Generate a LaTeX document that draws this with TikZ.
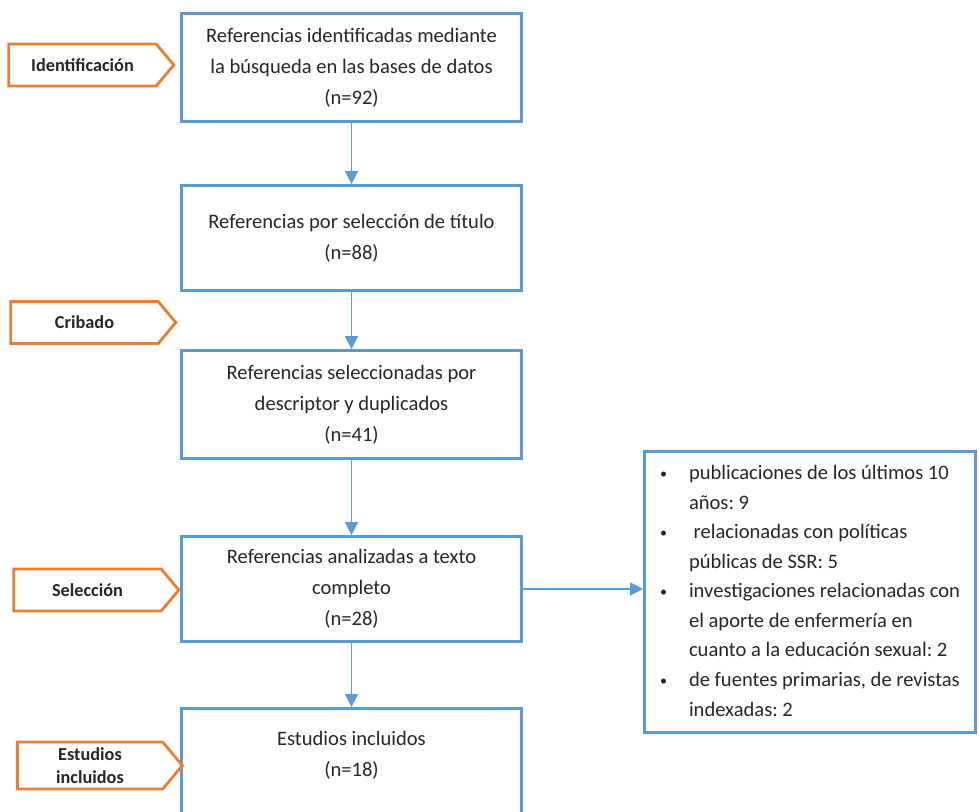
\documentclass[tikz,border=0pt]{standalone}
\usepackage{fontspec}
\setmainfont{Carlito}
\usetikzlibrary{arrows.meta,positioning,shapes.symbols}
\definecolor{prblue}{RGB}{91,155,213}
\definecolor{prorange}{RGB}{237,125,49}
\definecolor{prtext}{RGB}{38,38,38}
\newcommand{\prbullet}{\raisebox{0.12ex}{\fontsize{8}{8}\selectfont\textbullet}}
\frenchspacing

\begin{document}
\begin{tikzpicture}[
        stage/.style={draw=prblue, line width=1.6pt, minimum width=6.8cm, align=center, text=prtext, font=\fontsize{11.7}{17.6}\selectfont},
        phase/.style={signal, signal to=east, signal pointer angle=100, draw=prorange, line width=1.6pt, minimum width=3.3cm, minimum height=0.84cm, inner sep=0pt, align=center, text=prtext, font=\fontsize{10.4}{12.8}\selectfont\bfseries},
        flow/.style={-{Triangle[length=0.26cm, width=0.26cm]}, line width=0.85pt, draw=prblue}
      ]
      \useasboundingbox (0,0) rectangle (19.58,-16.22);
      \clip (0,0) rectangle (19.58,-16.22);

      \node[stage, minimum height=2.16cm] (ident) at (7.03,-1.35) {Referencias identificadas mediante\\la búsqueda en las bases de datos\\(n=92)};
      \node[stage, minimum height=2.10cm] (titulo) at (7.03,-4.76) {Referencias por selección de título\\(n=88)};
      \node[stage, minimum height=2.16cm] (descr) at (7.03,-8.09) {Referencias seleccionadas por\\descriptor y duplicados\\(n=41)};
      \node[stage, minimum height=2.10cm] (texto) at (7.03,-11.78) {Referencias analizadas a texto\\completo\\(n=28)};
      \node[stage, minimum height=2.30cm, text depth=0.49cm] (incl) at (7.03,-15.32) {Estudios incluidos\\(n=18)};

      \node[draw=prblue, line width=1.6pt, minimum width=6.62cm, minimum height=5.62cm, text=prtext, font=\fontsize{11.7}{16.8}\selectfont] (razones) at (16.2,-11.84) {%
        \begin{tabular}{@{}p{0.58cm}@{}l@{}}
          \prbullet & publicaciones de los últimos 10\\
                    & años: 9\\
          \prbullet & \ relacionadas con políticas\\
                    & públicas de SSR: 5\\
          \prbullet & investigaciones relacionadas con\\
                    & el aporte de enfermería en\\
                    & cuanto a la educación sexual: 2\\
          \prbullet & de fuentes primarias, de revistas\\
                    & indexadas: 2
        \end{tabular}};

      \node[phase] (fid) at (1.65,-1.30) {Identificación};
      \node[phase] (fcr) at (1.69,-6.45) {Cribado};
      \node[phase] (fse) at (1.75,-11.80) {Selección};
      \node[phase, minimum height=0.94cm] (fin) at (1.80,-15.31) {Estudios\\incluidos};

      \draw[flow] (ident) -- (titulo);
      \draw[flow] (titulo) -- (descr);
      \draw[flow] (descr) -- (texto);
      \draw[flow] (texto) -- (incl);
      \draw[flow] (texto.east) -- (texto.east -| razones.west);
    \end{tikzpicture}
\end{document}
